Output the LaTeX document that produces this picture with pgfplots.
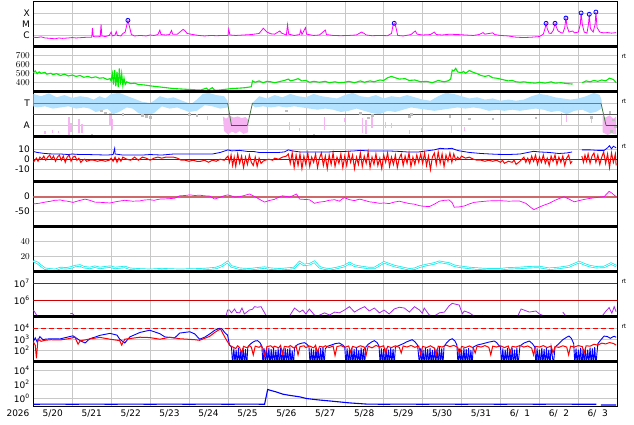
\documentclass[border=0pt]{standalone}
\usepackage{fontspec}
\setmainfont{DejaVu Sans}
\usepackage{pgfplots}
\pgfplotsset{compat=1.18}
\definecolor{gridc}{RGB}{200,200,200}
\definecolor{mag}{RGB}{255,0,255}
\definecolor{grn}{RGB}{0,235,0}
\definecolor{lblue}{RGB}{178,226,255}
\definecolor{pinkc}{RGB}{246,180,242}
\definecolor{grayd}{RGB}{190,190,190}
\definecolor{tblue}{RGB}{100,100,255}
\definecolor{dgreen}{RGB}{70,120,70}
\definecolor{dred}{RGB}{170,0,0}
\definecolor{rosy}{RGB}{205,105,105}
\definecolor{cyanc}{RGB}{0,235,235}
\definecolor{purp}{RGB}{170,40,230}
\pgfplotsset{
 panel/.style={
   scale only axis, width=584pt, height=45pt, xmin=0, xmax=15,
   anchor=north west,
   xtick={0.5,1.5,...,14.5},
   minor xtick={1,2,...,14},
   xminorgrids=true, xmajorgrids=false, ymajorgrids=true,
   major grid style={draw=gridc, line width=0.5pt},
   minor grid style={draw=gridc, line width=0.5pt},
   major tick length=0pt, minor tick length=0pt,
   axis line style={draw=black, line width=0.7pt},
   tick label style={font=\fontsize{9}{10}\selectfont},
   unbounded coords=jump,
   clip=true,
 },
 nox/.style={xticklabels={}},
}
\begin{document}
\begin{tikzpicture}
\path[use as bounding box] (0pt,0pt) rectangle (634pt,424pt);
% ---------------- panel 1: X-ray
\begin{axis}[panel, nox, name=p1, at={(33.3pt,422.3pt)},
  ymode=log, ymin=1e-7, ymax=1e-3, ytick={1e-6,1e-5,1e-4}, yticklabels={C,M,X}]
\addplot[mag, line width=0.8pt] coordinates {
(0,7e-7)(0.1,6.5e-7)(0.2,7.5e-7)(0.3,6e-7)(0.45,5.5e-7)(0.56,5e-7)(0.65,6e-7)(0.75,5.5e-7)(0.9,6e-7)(1.0,6.5e-7)(1.1,6e-7)(1.25,6.5e-7)(1.4,7e-7)(1.5,7e-7)(1.52,4.4e-6)(1.54,8e-7)(1.62,7.5e-7)(1.72,8e-7)(1.74,9.8e-6)(1.76,9e-7)(1.85,8e-7)(1.95,1e-6)(2.0,2e-6)(2.03,9e-7)(2.1,1.1e-6)(2.13,2.2e-6)(2.16,1e-6)(2.25,9e-7)(2.3,1.5e-6)(2.36,2e-6)(2.4,8e-6)(2.43,2.2e-5)(2.47,6e-6)(2.52,1.2e-6)(2.6,9e-7)(2.75,1e-6)(2.9,9e-7)(3.0,1.1e-6)(3.1,1e-6)(3.2,1.2e-6)(3.25,3e-6)(3.28,1.2e-6)(3.4,1.1e-6)(3.5,1.2e-6)(3.55,2.8e-6)(3.58,1.3e-6)(3.7,1.3e-6)(3.8,2.5e-6)(3.85,3.5e-6)(3.9,2.5e-6)(3.95,1.5e-6)(4.1,1.2e-6)(4.25,1e-6)(4.4,9e-7)(4.55,1e-6)(4.7,9.5e-7)(4.9,1e-6)(5.0,1e-6)(5.02,3.7e-6)(5.05,1.1e-6)(5.2,1e-6)(5.4,1.1e-6)(5.6,1.2e-6)(5.8,1.5e-6)(5.91,4.4e-6)(6.0,2e-6)(6.1,1.4e-6)(6.2,1.3e-6)(6.33,2.5e-6)(6.38,1.6e-6)(6.5,1.1e-6)(6.53,9e-6)(6.56,1.3e-6)(6.7,1e-6)(6.84,1.2e-6)(6.87,3e-6)(6.9,1.2e-6)(6.99,4.9e-6)(7.02,1.3e-6)(7.2,1e-6)(7.35,1.1e-6)(7.5,3e-6)(7.53,1.2e-6)(7.7,1e-6)(7.9,9.5e-7)(8.1,1e-6)(8.3,1.1e-6)(8.43,2e-6)(8.5,1.5e-6)(8.55,1.1e-6)(8.7,9.5e-7)(8.9,1e-6)(9.1,9.5e-7)(9.2,1.5e-6)(9.24,8e-6)(9.27,1.2e-5)(9.31,6e-6)(9.36,1e-6)(9.5,9e-7)(9.7,1.2e-6)(9.81,2.5e-6)(9.86,1.3e-6)(10.0,1.1e-6)(10.2,1.2e-6)(10.3,2e-6)(10.35,1.2e-6)(10.5,1.1e-6)(10.7,1.3e-6)(10.9,1.2e-6)(11.1,1.1e-6)(11.3,1e-6)(11.45,1.2e-6)(11.55,1.8e-6)(11.6,1.3e-6)(11.8,1.7e-6)(11.85,1.2e-6)(12.0,1e-6)(12.2,9e-7)(12.4,7e-7)(12.6,6.5e-7)(12.8,7e-7)(13.0,8e-7)(13.1,1.3e-6)(13.15,5e-6)(13.17,1.2e-5)(13.2,4e-6)(13.25,1.6e-6)(13.3,1.5e-6)(13.36,3e-6)(13.4,1.2e-5)(13.44,5e-6)(13.48,2.5e-6)(13.55,1.8e-6)(13.6,1.6e-6)(13.65,5e-6)(13.68,3.5e-5)(13.71,6e-6)(13.76,2e-6)(13.85,2.5e-6)(13.9,1.7e-6)(14.0,2e-6)(14.05,1e-5)(14.07,1e-4)(14.1,1e-5)(14.15,2e-6)(14.22,1.6e-6)(14.26,1e-5)(14.28,7.6e-5)(14.31,4e-6)(14.38,2e-6)(14.43,1e-5)(14.45,1.2e-4)(14.48,5e-6)(14.55,2e-6)(14.65,1.7e-6)(14.75,1.8e-6)(14.85,1.6e-6)(14.97,1.8e-6)};
\addplot[only marks, mark=o, mark size=2pt, blue, line width=0.8pt] coordinates {
(2.43,2.2e-5)(9.27,1.2e-5)(13.17,1.2e-5)(13.40,1.2e-5)(13.68,3.5e-5)(14.07,1e-4)(14.28,7.6e-5)(14.45,1.2e-4)};
\end{axis}
% ---------------- panel 2: speed
\begin{axis}[panel, nox, name=p2, at={(33.3pt,377.3pt)},
  ymin=300, ymax=800, ytick={400,500,600,700}]
\addplot[grn, line width=1.1pt] coordinates {
(0,510)(0.05,530)(0.1,500)(0.15,520)(0.2,505)(0.3,515)(0.35,495)(0.45,505)(0.5,490)(0.6,500)(0.7,480)(0.8,495)(0.9,475)(1.0,485)(1.1,470)(1.2,480)(1.3,460)(1.4,470)(1.5,455)(1.6,465)(1.7,450)(1.8,455)(1.9,435)(1.97,445)(2.0,420)(2.03,500)(2.06,380)(2.09,540)(2.12,360)(2.15,520)(2.18,350)(2.21,560)(2.24,380)(2.27,500)(2.3,370)(2.33,450)(2.36,380)(2.4,410)(2.5,390)(2.6,395)(2.7,380)(2.85,375)(3.0,365)(3.2,355)(3.4,345)(3.6,335)(3.8,330)(4.0,325)(4.2,320)(4.3,318)(4.45,340)(4.5,318)(4.6,345)(4.65,320)(4.7,315)(4.85,322)(5.0,330)(5.1,335)(5.3,340)(5.45,345)(5.6,355)(5.63,420)(5.7,405)(5.8,420)(5.9,400)(6.0,415)(6.1,410)(6.2,400)(6.35,415)(6.45,425)(6.55,440)(6.6,420)(6.7,430)(6.8,445)(6.9,420)(7.0,425)(7.1,405)(7.2,415)(7.35,405)(7.5,415)(7.6,400)(7.75,410)(7.85,400)(8.0,405)(8.1,415)(8.25,400)(8.4,420)(8.5,405)(8.65,420)(8.75,410)(8.9,430)(9.0,425)(9.1,455)(9.2,470)(9.3,455)(9.4,440)(9.55,445)(9.65,425)(9.8,430)(9.95,410)(10.1,415)(10.25,400)(10.4,425)(10.55,410)(10.65,420)(10.72,440)(10.76,540)(10.8,530)(10.85,560)(10.9,520)(11.0,510)(11.05,525)(11.1,505)(11.2,535)(11.3,515)(11.4,500)(11.5,480)(11.6,470)(11.7,480)(11.8,455)(11.9,450)(12.0,440)(12.1,430)(12.2,420)(12.3,425)(12.4,410)(12.5,405)(12.6,410)(12.75,400)(12.9,395)(13.0,405)(13.15,395)(13.3,410)(13.4,395)(13.55,400)(13.7,390)(13.85,385)(13.86,nan)(14.1,400)(14.2,420)(14.3,410)(14.4,425)(14.5,415)(14.6,430)(14.7,420)(14.8,450)(14.9,435)(14.97,400)};
\end{axis}
% ---------------- panel 3: T/A
\begin{axis}[panel, nox, name=p3, at={(33.3pt,332.3pt)},
  ymin=0, ymax=4, ytick={1,3}, yticklabels={A,T}]
\addplot[fill=lblue, draw=none] coordinates {
(0,3.8)(0.2,3.6)(0.4,3.85)(0.6,3.5)(0.8,3.7)(1.0,3.45)(1.2,3.6)(1.4,3.5)(1.55,3.3)(1.7,3.6)(1.85,3.4)(2.0,3.8)(2.2,3.9)(2.35,3.7)(2.5,3.5)(2.65,3.3)(2.8,3.1)(3.0,3.0)(3.1,3.2)(3.25,3.6)(3.45,3.4)(3.6,3.5)(3.75,3.3)(3.9,3.1)(4.05,2.9)(4.2,3.3)(4.35,3.8)(4.5,3.9)(4.7,3.7)(4.9,3.6)(4.99,3.2)
(4.99,2.6)(4.8,2.5)(4.6,2.7)(4.4,2.8)(4.2,2.3)(4.0,2.2)(3.85,2.4)(3.7,2.6)(3.5,2.5)(3.3,2.7)(3.1,2.1)(2.95,1.9)(2.8,2.0)(2.7,2.1)(2.55,2.5)(2.4,2.6)(2.2,2.2)(2.05,2.0)(1.9,2.5)(1.75,2.3)(1.6,2.2)(1.45,2.5)(1.3,2.6)(1.1,2.5)(0.9,2.7)(0.7,2.6)(0.5,2.5)(0.3,2.7)(0.1,2.6)(0,2.7)} -- cycle;
\addplot[fill=lblue, draw=none] coordinates {
(5.63,3.0)(5.8,3.6)(6.0,3.4)(6.2,3.7)(6.4,3.5)(6.6,3.8)(6.8,3.6)(7.0,3.5)(7.2,3.8)(7.4,3.6)(7.6,3.5)(7.8,3.4)(8.0,3.7)(8.2,3.9)(8.4,3.6)(8.6,3.5)(8.8,3.7)(9.0,3.4)(9.2,3.6)(9.4,3.5)(9.6,3.7)(9.8,3.5)(10.0,3.3)(10.2,3.2)(10.4,3.6)(10.6,3.9)(10.8,3.8)(11.0,3.6)(11.2,3.4)(11.4,3.5)(11.6,3.3)(11.8,3.4)(12.0,3.2)(12.2,3.3)(12.4,3.2)(12.6,3.3)(12.8,3.6)(13.0,3.8)(13.2,3.7)(13.4,3.5)(13.6,3.4)(13.8,3.3)(14.0,3.4)(14.2,3.6)(14.4,3.9)(14.55,3.7)(14.6,3.2)
(14.6,2.5)(14.45,2.2)(14.3,2.1)(14.1,2.4)(13.9,2.3)(13.7,2.0)(13.5,2.3)(13.3,2.2)(13.1,2.4)(12.9,2.5)(12.7,2.4)(12.5,2.3)(12.3,2.4)(12.1,2.3)(11.9,2.4)(11.7,2.3)(11.5,2.5)(11.3,2.6)(11.1,2.5)(10.9,2.6)(10.7,2.5)(10.5,2.4)(10.3,2.3)(10.1,2.4)(9.9,2.5)(9.7,2.6)(9.5,2.4)(9.3,2.2)(9.1,2.3)(8.9,2.0)(8.7,2.1)(8.5,2.3)(8.3,2.5)(8.1,2.3)(7.9,2.2)(7.7,2.4)(7.5,2.5)(7.3,2.4)(7.1,2.5)(6.9,2.6)(6.7,2.7)(6.5,2.6)(6.3,2.7)(6.1,2.6)(5.9,2.7)(5.7,2.6)(5.63,2.8)} -- cycle;
\addplot[fill=pinkc, draw=none] coordinates {
(4.87,1.8)(4.95,1.6)(5.05,1.85)(5.15,1.7)(5.25,1.8)(5.35,1.65)(5.45,1.75)(5.52,1.5)(5.52,0.4)(5.4,0.25)(5.3,0.5)(5.2,0.3)(5.1,0.45)(5.0,0.2)(4.9,0.5)} -- cycle;
\addplot[fill=pinkc, draw=none] coordinates {
(14.62,1.84)(14.7,1.7)(14.8,1.9)(14.9,1.6)(14.97,1.8)(14.97,0.2)(14.85,0.3)(14.75,0.15)(14.62,0.4)} -- cycle;
\addplot[pinkc, line width=1.4pt] coordinates {
(0.3,0.5)(0.3,0.2)(0.3,nan)(0.5,0.6)(0.5,0.35)(0.5,nan)(0.65,0.55)(0.65,0.3)(0.65,nan)(0.92,1.75)(0.92,0.15)(0.92,nan)(0.97,1.2)(0.97,0.4)(0.97,nan)(1.17,1.6)(1.17,0.3)(1.17,nan)(1.25,1.1)(1.25,0.3)(1.25,nan)(1.97,2.1)(1.97,0.95)(1.97,nan)(2.03,1.6)(2.03,0.6)(2.03,nan)(4.48,1.84)(4.48,1.5)(4.48,nan)(6.58,1.3)(6.58,0.6)(6.58,nan)(6.84,0.75)(6.84,0.5)(6.84,nan)(7.48,1.75)(7.48,0.6)(7.48,nan)(7.99,1.66)(7.99,1.3)(7.99,nan)(8.45,1.7)(8.45,0.3)(8.45,nan)(8.55,1.5)(8.55,0.2)(8.55,nan)(8.7,1.75)(8.7,0.8)(8.7,nan)(9.05,1.3)(9.05,0.8)(9.05,nan)(9.2,1.2)(9.2,0.8)(9.2,nan)(9.66,0.6)(9.66,0.2)(9.66,nan)(9.97,0.75)(9.97,0.4)(9.97,nan)(10.74,0.95)(10.74,0.33)(10.74,nan)(11.07,0.85)(11.07,0.5)(11.07,nan)(13.56,2.1)(13.56,1.04)(13.56,nan)(13.7,2.0)(13.7,1.3)(13.7,nan)(14.33,1.75)(14.33,1.2)};
\addplot[only marks, mark=square*, mark size=0.8pt, grayd] coordinates {
(0.3,0.1)(0.5,0.1)(0.8,0.1)(1.3,0.1)(1.5,0.12)(1.75,2.3)(1.85,2.15)(2.2,0.1)(2.3,2.0)(2.5,0.1)(2.9,1.8)(3.0,1.75)(2.8,1.9)(4.0,2.0)(4.2,1.9)(4.05,0.1)(4.9,0.1)(5.3,0.1)(6.5,2.3)(7.2,0.12)(8.6,1.7)(8.7,1.9)(8.4,2.1)(9.7,2.0)(9.65,1.8)(10.7,1.8)(11.2,1.6)(11.8,1.6)(10.0,0.1)(12.9,1.7)(13.1,0.1)(14.33,1.75)(14.8,2.2)(14.9,1.5)(14.85,0.5)(14.95,0.9)(11.5,0.1)(12.2,0.1)};
\addplot[draw=black!65, line width=0.7pt] coordinates {(0,2)(15,2)};
\addplot[tblue, line width=0.9pt] coordinates {(0,3)(4.99,3)(4.99,nan)(5.63,3)(14.58,3)};
\addplot[dgreen, line width=0.8pt] coordinates {(4.99,3)(5.09,1)(5.09,nan)(5.5,1)(5.63,3)(5.63,nan)(14.58,3)(14.71,1)};
\addplot[red, line width=0.8pt] coordinates {(5.09,1)(5.5,1)(5.5,nan)(14.71,1)(15,1)};
\end{axis}
% ---------------- panel 4: Bt / Bz
\begin{axis}[panel, nox, name=p4, at={(33.3pt,287.3pt)},
  ymin=-21.7, ymax=21.7, ytick={-10,0,10}, yticklabels={-10,0,10}]
\addplot[dred, line width=0.6pt] coordinates {(0,0)(15,0)};
\addplot[blue, line width=0.8pt] coordinates {
(0,7.5)(0.1,6.5)(0.2,6)(0.3,5.5)(0.5,5)(0.7,5)(0.9,4.5)(1.0,5)(1.2,4.5)(1.4,4.5)(1.6,4.3)(1.9,4)(2.05,4.5)(2.09,10.5)(2.1,5)(2.3,4)(2.5,4)(2.8,4)(3.0,4.5)(3.3,4)(3.6,5)(3.9,5)(4.1,5)(4.3,5)(4.6,5)(4.8,6.5)(5.0,9)(5.1,8)(5.3,8.5)(5.5,7.5)(5.65,7.5)(5.8,6.5)(6.0,6.5)(6.3,6.5)(6.45,7)(6.55,9)(6.65,8)(6.85,7)(7.0,7)(7.3,7)(7.6,7)(7.75,7.5)(8.0,7.5)(8.25,8)(8.4,8.5)(8.6,8)(8.9,8)(9.1,8)(9.4,7.5)(9.6,7)(9.9,7)(10.1,8)(10.3,9)(10.45,10.5)(10.6,10)(10.75,10.5)(10.85,9)(10.95,8)(11.2,6.5)(11.5,5.5)(11.9,4.7)(12.2,4.5)(12.5,5)(12.7,6.5)(12.85,7.6)(13.0,7)(13.25,6.5)(13.5,5.5)(13.7,6)(13.84,7)(13.85,nan)(14.09,9)(14.3,9)(14.5,8.5)(14.66,8.5)(14.75,11)(14.8,13)(14.85,10)(14.9,12.5)(14.97,11)};
\addplot[red, line width=1pt] coordinates {
(0,-3)(0.04,-1)(0.08,1)(0.12,-2)(0.17,2)(0.22,0)(0.27,3)(0.32,-1)(0.37,2)(0.42,4)(0.47,0)(0.52,3)(0.57,-2)(0.62,2)(0.67,4)(0.72,-1)(0.77,3)(0.82,-3)(0.87,2)(0.92,4)(0.97,-2)(1.02,2)(1.07,3)(1.12,-1)(1.17,1)(1.22,-3)(1.27,-1)(1.32,0)(1.37,-2)(1.45,-1)(1.55,-1)(1.65,-2)(1.75,-1)(1.85,-2)(1.95,-1)(2.0,1)(2.05,-2)(2.1,2)(2.15,-3)(2.2,1)(2.25,-2)(2.3,2)(2.4,0)(2.5,-1)(2.6,2)(2.7,-1)(2.8,2)(2.9,1)(3.0,-1)(3.1,1)(3.2,2)(3.3,1)(3.4,2)(3.5,2)(3.6,2)(3.7,1)(3.8,-1)(3.9,-1)(4.0,-2)(4.1,-1)(4.2,-2)(4.3,-2)(4.4,-1)(4.5,-3)(4.6,-1)(4.7,-2)(4.8,0)(4.9,-1)(5.0,3)(5.04,-3)(5.08,4)(5.12,-6)(5.16,2)(5.2,-7)(5.25,5)(5.3,-4)(5.35,3)(5.4,-8)(5.45,2)(5.5,-5)(5.55,4)(5.6,-3)(5.65,-6)(5.7,2)(5.75,-7)(5.8,1)(5.85,-4)(5.9,-2)(5.95,-1)(6.05,0)(6.15,-1)(6.2,1)(6.3,0)(6.4,2)(6.5,3)(6.55,5)(6.6,-4)(6.65,6)(6.7,-8)(6.75,4)(6.8,-6)(6.85,5)(6.9,-9)(6.95,3)(7.0,-5)(7.05,6)(7.1,-7)(7.15,2)(7.2,-3)(7.25,5)(7.3,-8)(7.35,1)(7.4,6)(7.45,-6)(7.5,3)(7.55,-9)(7.6,4)(7.65,-5)(7.7,6)(7.75,-7)(7.8,2)(7.85,-4)(7.9,5)(7.95,-8)(8.0,3)(8.05,-6)(8.1,6)(8.15,-3)(8.2,4)(8.25,-9)(8.3,2)(8.35,-5)(8.4,6)(8.45,-7)(8.5,3)(8.55,-4)(8.6,7)(8.65,-8)(8.7,2)(8.75,-5)(8.8,5)(8.85,-6)(8.9,1)(8.95,-9)(9.0,4)(9.05,-3)(9.1,6)(9.15,-7)(9.2,2)(9.25,-5)(9.3,4)(9.35,-8)(9.4,1)(9.45,5)(9.5,-6)(9.55,3)(9.6,-4)(9.65,6)(9.7,-7)(9.75,2)(9.8,-5)(9.85,4)(9.9,-3)(9.95,5)(10.0,-4)(10.05,6)(10.1,-6)(10.15,3)(10.2,-10)(10.25,2)(10.3,6)(10.35,-5)(10.4,7)(10.45,-4)(10.5,5)(10.55,-7)(10.6,4)(10.65,-2)(10.7,6)(10.75,-3)(10.8,5)(10.85,-1)(10.9,2)(10.95,0)(11.0,3)(11.1,1)(11.2,2)(11.3,0)(11.4,-1)(11.5,-1)(11.6,-2)(11.7,-1)(11.8,-2)(11.9,-1)(12.0,-3)(12.05,-1)(12.1,-4)(12.2,-2)(12.3,-3)(12.35,-1)(12.4,-5)(12.5,-2)(12.55,0)(12.6,2)(12.65,-3)(12.7,1)(12.75,-4)(12.8,3)(12.85,-2)(12.9,4)(12.95,-5)(13.0,2)(13.05,-3)(13.1,4)(13.15,-4)(13.2,1)(13.25,-6)(13.3,3)(13.35,-2)(13.4,4)(13.45,-5)(13.5,2)(13.55,-3)(13.6,3)(13.65,-6)(13.7,1)(13.75,4)(13.8,-4)(13.84,-2)(13.85,nan)(14.09,3)(14.13,-3)(14.17,4)(14.21,-2)(14.25,5)(14.3,-4)(14.35,3)(14.4,6)(14.45,-3)(14.5,4)(14.55,-5)(14.6,2)(14.65,7)(14.7,-4)(14.75,5)(14.8,-8)(14.85,6)(14.9,-3)(14.95,5)(14.97,-6)};
\end{axis}
% ---------------- panel 5: Dst
\begin{axis}[panel, nox, name=p5, at={(33.3pt,242.3pt)},
  ymin=-100, ymax=50, ytick={-50,0}, yticklabels={-50,0}]
\addplot[rosy, line width=2pt] coordinates {(0,0)(15,0)};
\addplot[mag, line width=0.7pt] coordinates {
(0,-24)(0.15,-22)(0.3,-18)(0.45,-15)(0.55,-12)(0.7,-11)(0.8,-14)(0.88,-15)(1.02,-19)(1.15,-14)(1.33,-8)(1.45,-12)(1.58,-18)(1.75,-19)(1.97,-21)(2.15,-16)(2.35,-12)(2.55,-15)(2.74,-14)(2.85,-11)(2.99,-10)(3.1,-12)(3.25,-8)(3.45,-7)(3.63,-5)(3.76,3)(3.9,4)(4.02,6)(4.15,4)(4.27,5)(4.4,3)(4.53,2)(4.66,-8)(4.72,-5)(4.79,-2)(4.9,3)(4.99,6)(5.08,3)(5.17,-1)(5.3,0)(5.42,4)(5.55,9)(5.68,1)(5.8,-8)(5.94,-18)(6.05,-13)(6.19,-9)(6.3,-2)(6.40,3)(6.5,1)(6.58,-1)(6.68,4)(6.76,9)(6.84,-8)(6.95,-9)(7.09,-10)(7.15,-15)(7.22,-22)(7.35,-18)(7.48,-16)(7.6,-12)(7.74,-10)(7.86,-15)(7.93,-8)(7.99,-3)(8.12,-10)(8.25,-13)(8.38,-8)(8.5,-12)(8.63,-17)(8.76,-19)(8.89,-22)(9.01,-21)(9.14,-23)(9.27,-18)(9.40,-15)(9.53,-19)(9.66,-23)(9.79,-25)(9.92,-30)(10.04,-32)(10.17,-33)(10.3,-25)(10.43,-15)(10.56,-12)(10.68,-11)(10.76,-20)(10.81,-35)(10.94,-34)(11.07,-31)(11.2,-24)(11.32,-19)(11.45,-17)(11.7,-14)(11.97,-13)(12.2,-15)(12.48,-14)(12.65,-22)(12.78,-36)(12.86,-43)(12.99,-35)(13.12,-28)(13.25,-22)(13.4,-12)(13.51,-6)(13.63,0)(13.76,-8)(13.89,-17)(14.02,-13)(14.15,-9)(14.28,-6)(14.45,-3)(14.58,-1)(14.66,0)(14.72,8)(14.79,18)(14.86,12)(14.97,0)};
\end{axis}
% ---------------- panel 6: density
\begin{axis}[panel, nox, name=p6, at={(33.3pt,197.3pt)},
  ymin=0, ymax=60, ytick={20,40}]
\addplot[draw=cyanc, line width=0.7pt, double=white, double distance=0.8pt] coordinates {
(0,14)(0.1,12)(0.17,9)(0.3,4)(0.45,3)(0.56,2.5)(0.7,5)(0.85,4.5)(1.0,6)(1.07,7.5)(1.2,8.3)(1.3,6)(1.45,5)(1.58,6.7)(1.71,5)(1.85,6)(1.97,6.7)(2.1,5)(2.35,6.3)(2.48,4)(2.6,3.5)(2.8,3)(3.0,2.5)(3.3,3.5)(3.5,3)(3.8,2.5)(4.0,3)(4.27,3.2)(4.5,4)(4.7,5)(4.85,8)(4.99,13)(5.09,7)(5.3,4)(5.55,3.2)(5.75,4.5)(5.94,5.5)(6.1,4)(6.33,3.2)(6.5,4)(6.7,5)(6.84,12.9)(6.95,9)(7.1,10)(7.22,13.3)(7.35,6)(7.48,4)(7.61,3.2)(7.8,5)(7.99,7.6)(8.12,11.6)(8.25,8)(8.38,6.7)(8.6,5)(8.76,4.9)(9.01,12.5)(9.14,10)(9.27,7.6)(9.5,5)(9.66,3.2)(9.8,4)(9.92,6.7)(10.1,9)(10.3,11)(10.43,13.3)(10.56,12)(10.68,11)(10.81,8)(10.94,6.7)(11.2,5)(11.45,4)(11.71,3.2)(11.97,3.2)(12.2,4.5)(12.48,5)(12.74,6)(12.99,6.3)(13.25,4)(13.5,5)(13.76,7)(14.02,12.9)(14.15,10)(14.28,7.6)(14.45,6)(14.66,6.3)(14.84,10.9)(14.97,7.6)};
\end{axis}
% ---------------- panel 7: purple log
\begin{axis}[panel, nox, name=p7, at={(33.3pt,152.3pt)},
  ymode=log, ymin=1e5, ymax=5.01e7, ytick={1e6,1e7}, ymajorgrids=false,
  yticklabels={10\textsuperscript{6},10\textsuperscript{7}}]
\addplot[red!80!black, line width=0.7pt] coordinates {(0,1e7)(15,1e7)(15,nan)(0,1e6)(15,1e6)};
\addplot[purp, line width=0.8pt] coordinates {
(0,2.5e5)(0.05,1.7e5)(0.1,1.1e5)(0.15,nan)(0.95,1.5e5)(1.0,1.6e5)(1.05,1.2e5)(1.1,nan)(4.6,1.2e5)(4.65,nan)(4.95,1.1e5)(4.99,2.5e5)(5.04,2.5e5)(5.09,1.7e5)(5.17,2.9e5)(5.22,1.8e5)(5.3,1.7e5)(5.36,3.3e5)(5.42,1.45e5)(5.55,2.5e5)(5.63,2.8e5)(5.68,4e5)(5.76,3.7e5)(5.85,4e5)(5.94,1.7e5)(5.99,1.1e5)(6.0,nan)(6.58,1.1e5)(6.71,3.3e5)(6.84,1.9e5)(6.92,2.5e5)(7.0,1.45e5)(7.09,2.9e5)(7.22,1.26e5)(7.3,1.1e5)(7.48,1.7e5)(7.61,1.26e5)(7.74,1.9e5)(7.86,1.7e5)(7.99,2.5e5)(8.12,4e5)(8.25,1.9e5)(8.38,2.9e5)(8.51,4e5)(8.63,2.2e5)(8.76,3.3e5)(8.89,1.7e5)(9.01,2.5e5)(9.14,1.45e5)(9.27,2.9e5)(9.4,3.7e5)(9.53,3.3e5)(9.66,1.9e5)(9.79,4e5)(9.92,2.5e5)(9.99,1.6e5)(10.04,3.3e5)(10.17,1.26e5)(10.3,1.1e5)(10.43,1.7e5)(10.56,1.9e5)(10.68,4.5e5)(10.76,6.3e5)(10.94,5e5)(11.02,1.5e5)(11.07,2.2e5)(11.2,1.7e5)(11.32,1.1e5)(11.35,nan)(11.53,1.2e5)(11.71,1.1e5)(11.75,nan)(11.97,1.2e5)(12.1,1.1e5)(12.15,nan)(12.45,1.2e5)(12.53,2.9e5)(12.74,1.9e5)(12.91,2.2e5)(13.0,1.45e5)(13.12,1.1e5)(13.15,nan)(13.6,1.9e5)(13.68,1.1e5)(13.7,nan)(14.15,1.2e5)(14.2,nan)(14.61,1.1e5)(14.71,2.2e5)(14.79,3.5e5)(14.86,1.6e5)(14.92,4e5)(14.97,2e5)};
\end{axis}
% ---------------- panel 8: protons
\begin{axis}[panel, nox, name=p8, at={(33.3pt,107.3pt)},
  ymode=log, ymin=10, ymax=1e5, ytick={1e2,1e3,1e4},
  yticklabels={10\textsuperscript{2},10\textsuperscript{3},10\textsuperscript{4}}]
\addplot[red, line width=0.8pt, dash pattern=on 5pt off 3pt] coordinates {(0,1e4)(15,1e4)};
\addplot[blue, line width=0.9pt] coordinates {
(0,600)(0.05,1300)(0.1,550)(0.17,1700)(0.25,900)(0.3,1000)(0.45,1100)(0.68,1050)(0.9,1600)(1.02,2000)(1.1,1300)(1.2,750)(1.33,460)(1.45,1100)(1.6,1600)(1.71,2200)(1.97,3300)(2.15,2300)(2.22,1000)(2.35,460)(2.48,1600)(2.74,4000)(2.99,6300)(3.25,3100)(3.38,1600)(3.63,1300)(3.76,3500)(4.02,4600)(4.15,2900)(4.27,1000)(4.4,1500)(4.53,2900)(4.66,6300)(4.79,9300)(4.85,8000)(4.92,3800)(4.99,2300)(5.04,300)(5.09,210)
(5.12,5)(5.15,150)(5.18,8)(5.21,120)(5.24,4)(5.27,180)(5.3,6)(5.33,100)(5.36,5)(5.39,160)(5.42,7)(5.45,130)(5.48,4)(5.51,200)(5.55,300)(5.62,500)(5.7,700)(5.76,740)(5.82,500)(5.87,250)(5.9,6)(5.93,150)(5.96,5)(5.99,120)(6.02,8)(6.05,170)(6.08,4)(6.11,130)(6.14,6)(6.17,190)(6.2,5)(6.23,110)(6.26,7)(6.29,150)(6.32,4)(6.35,180)(6.38,6)(6.41,120)(6.44,5)(6.47,160)(6.5,8)(6.53,140)(6.56,5)(6.59,190)(6.62,6)(6.65,100)(6.68,4)(6.71,170)(6.74,250)(6.8,350)(6.9,450)(6.97,490)(7.03,350)(7.08,220)(7.11,5)(7.14,150)(7.17,6)(7.2,120)(7.23,4)(7.26,180)(7.29,7)(7.32,130)(7.35,5)(7.38,160)(7.41,6)(7.44,200)(7.47,5)(7.5,140)(7.55,230)(7.65,300)(7.75,400)(7.86,460)(7.95,300)(8.0,200)(8.03,5)(8.06,150)(8.09,6)(8.12,120)(8.15,4)(8.18,170)(8.21,7)(8.24,130)(8.27,5)(8.3,160)(8.33,6)(8.36,110)(8.39,5)(8.42,180)(8.45,7)(8.48,140)(8.51,5)(8.54,200)(8.6,350)(8.7,600)(8.76,740)(8.83,500)(8.88,250)(8.91,5)(8.94,150)(8.97,7)(9.0,130)(9.03,4)(9.06,170)(9.09,6)(9.12,120)(9.15,5)(9.18,160)(9.21,7)(9.24,140)(9.27,5)(9.3,200)(9.4,280)(9.5,400)(9.6,600)(9.73,910)(9.8,600)(9.87,300)(9.92,5)(9.95,150)(9.98,6)(10.01,120)(10.04,4)(10.07,170)(10.1,7)(10.13,130)(10.16,5)(10.19,160)(10.22,6)(10.25,110)(10.28,5)(10.31,180)(10.34,7)(10.37,140)(10.4,5)(10.43,200)(10.46,6)(10.49,150)(10.52,5)(10.55,230)(10.62,500)(10.7,900)(10.76,1100)(10.83,700)(10.88,300)(10.91,5)(10.94,150)(10.97,6)(11.0,120)(11.03,4)(11.06,170)(11.09,7)(11.12,130)(11.15,5)(11.18,160)(11.21,6)(11.24,110)(11.27,5)(11.3,200)(11.4,300)(11.55,400)(11.7,550)(11.84,690)(11.9,500)(11.95,300)(12.0,200)(12.03,6)(12.06,150)(12.09,5)(12.12,120)(12.15,7)(12.18,170)(12.21,4)(12.24,130)(12.27,6)(12.3,160)(12.33,5)(12.36,120)(12.39,6)(12.42,180)(12.45,5)(12.5,250)(12.6,450)(12.74,690)(12.82,400)(12.88,200)(12.91,5)(12.94,150)(12.97,6)(13.0,120)(13.03,4)(13.06,170)(13.09,7)(13.12,130)(13.15,5)(13.18,160)(13.21,6)(13.24,120)(13.27,5)(13.3,180)(13.36,6)(13.4,200)(13.5,400)(13.6,900)(13.7,1500)(13.76,1900)(13.82,1200)(13.88,400)(13.91,6)(13.94,150)(13.97,5)(14.0,120)(14.03,7)(14.06,170)(14.09,4)(14.12,130)(14.15,6)(14.18,160)(14.21,5)(14.24,120)(14.27,7)(14.3,180)(14.33,5)(14.36,150)(14.39,6)(14.42,200)(14.45,5)(14.5,400)(14.58,900)(14.66,1900)(14.75,1700)(14.82,1200)(14.88,1600)(14.92,1800)(14.97,1500)};
\addplot[red, line width=1pt] coordinates {
(0,560)(0.05,300)(0.08,20)(0.12,1000)(0.2,650)(0.3,800)(0.45,900)(0.68,850)(0.9,1100)(1.07,1500)(1.15,360)(1.2,700)(1.45,1050)(1.71,1450)(1.97,1000)(2.22,750)(2.27,300)(2.35,1000)(2.74,1500)(2.99,1400)(3.25,1000)(3.51,1500)(3.76,1100)(4.15,900)(4.27,800)(4.53,1800)(4.66,4000)(4.79,7500)(4.81,8000)(4.92,1500)(5.04,300)(5.1,220)(5.2,150)(5.25,260)(5.3,180)(5.35,60)(5.4,230)(5.5,170)(5.55,280)(5.6,200)(5.65,40)(5.7,240)(5.8,190)(5.85,270)(5.9,150)(5.95,30)(6.0,220)(6.1,260)(6.15,180)(6.2,240)(6.3,170)(6.35,280)(6.4,50)(6.45,230)(6.55,200)(6.6,270)(6.7,160)(6.75,250)(6.8,40)(6.85,220)(6.95,260)(7.0,180)(7.1,250)(7.2,170)(7.25,290)(7.3,60)(7.35,230)(7.45,200)(7.5,260)(7.6,180)(7.7,250)(7.75,35)(7.8,220)(7.9,270)(8.0,190)(8.1,250)(8.15,70)(8.2,230)(8.3,180)(8.4,260)(8.5,200)(8.55,40)(8.6,240)(8.7,170)(8.8,280)(8.9,200)(9.0,260)(9.05,50)(9.1,230)(9.2,180)(9.3,260)(9.4,190)(9.45,60)(9.5,250)(9.6,200)(9.7,280)(9.8,190)(9.9,250)(9.95,45)(10.0,230)(10.1,180)(10.2,260)(10.3,160)(10.35,40)(10.4,240)(10.5,200)(10.6,300)(10.7,220)(10.8,280)(10.9,190)(10.95,50)(11.0,230)(11.1,180)(11.2,250)(11.3,170)(11.35,60)(11.4,240)(11.5,200)(11.6,270)(11.7,190)(11.75,40)(11.8,240)(11.9,200)(12.0,260)(12.1,180)(12.2,250)(12.25,70)(12.3,230)(12.4,200)(12.5,280)(12.6,200)(12.7,250)(12.8,160)(12.85,40)(12.9,230)(13.0,200)(13.1,270)(13.2,180)(13.3,250)(13.35,60)(13.4,220)(13.5,190)(13.6,260)(13.7,200)(13.75,40)(13.8,240)(13.9,200)(14.0,270)(14.1,220)(14.15,60)(14.2,260)(14.3,240)(14.4,350)(14.5,300)(14.6,450)(14.7,380)(14.8,500)(14.9,420)(14.97,300)};
\end{axis}
% ---------------- panel 9: electrons
\begin{axis}[panel, name=p9, at={(33.3pt,62.3pt)},
  ymode=log, ymin=0.0631, ymax=1.585e5, ytick={1,100,1e4},
  yticklabels={10\textsuperscript{0},10\textsuperscript{2},10\textsuperscript{4}},
  xticklabels={5/20,5/21,5/22,5/23,5/24,5/25,5/26,5/27,5/28,5/29,5/30,5/31,{6/\hphantom{0}1},{6/\hphantom{0}2},{6/\hphantom{0}3}}]
\addplot[blue, line width=1.1pt] coordinates {
(0,0.14)(0.5,0.15)(1,0.14)(1.5,0.15)(2,0.14)(2.5,0.15)(3,0.14)(3.5,0.15)(4,0.14)(4.5,0.15)(5,0.14)(5.5,0.15)(5.94,0.14)(6.02,17.8)(6.1,13)(6.24,7.9)(6.41,3.8)(6.6,2.5)(6.84,1.6)(7.01,0.93)(7.3,0.6)(7.68,0.38)(8.12,0.22)(8.55,0.15)(9,0.14)(9.5,0.15)(10,0.14)(10.5,0.15)(11,0.14)(11.5,0.15)(12,0.14)(12.5,0.15)(13,0.14)(13.5,0.15)(14,0.14)(14.46,0.14)(14.47,nan)(14.58,0.11)(14.97,0.11)};
\end{axis}
% separators and labels
\foreach \n in {p1,p2,p3,p4,p5,p6,p7,p8}{
  \draw[black, line width=2.8pt] (\n.south west) -- (\n.south east);
}
\foreach \n in {p2,p3,p4,p7,p8}{
  \node[anchor=west, inner sep=0pt, font=\fontsize{6}{7}\selectfont] at ([xshift=4pt,yshift=-9.5pt]\n.north east) {rt};
}
\node[anchor=north, inner sep=0pt, font=\fontsize{9}{10}\selectfont] at ([xshift=-15.3pt,yshift=-3pt]p9.south west) {2026};
\end{tikzpicture}
\end{document}
